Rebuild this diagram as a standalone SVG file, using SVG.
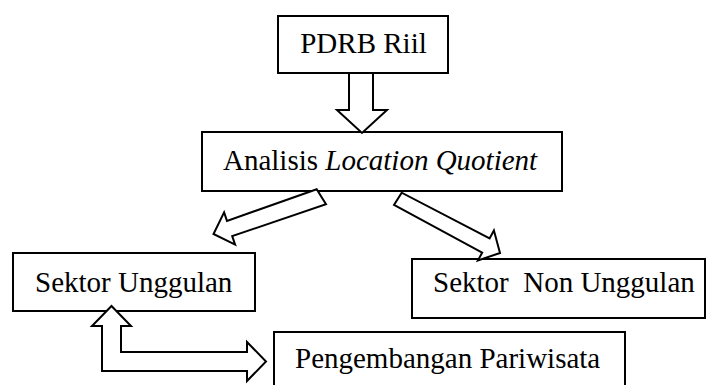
<svg xmlns="http://www.w3.org/2000/svg" width="707" height="385" viewBox="0 0 707 385">
<style>
.box{fill:#fff;stroke:#000;stroke-width:2}
.t{font-family:"Liberation Serif","Times New Roman",serif;font-size:29px;fill:#000;white-space:pre}
.arr{fill:#fff;stroke:#000;stroke-width:2;stroke-linejoin:miter}
</style>
<rect width="707" height="385" fill="#fff"/>
<g id="pdrb">
<rect class="box" x="278" y="16" width="170" height="57"/>
<text class="t" x="363.5" y="53" text-anchor="middle">PDRB Riil</text>
</g>
<g id="lq">
<rect class="box" x="202" y="132" width="360" height="59"/>
<text class="t" x="223" y="170">Analisis <tspan font-style="italic">Location Quotient</tspan></text>
</g>
<g id="unggulan">
<rect class="box" x="13" y="253" width="242" height="58"/>
<text class="t" x="35" y="292">Sektor Unggulan</text>
</g>
<g id="nonunggulan">
<rect class="box" x="412" y="259" width="293" height="59"/>
<text class="t" x="433" y="292" xml:space="preserve">Sektor  Non Unggulan</text>
</g>
<g id="pariwisata">
<rect class="box" x="274" y="332" width="351" height="62"/>
<text class="t" x="295" y="368">Pengembangan Pariwisata</text>
</g>
<g id="connectors">
<polygon class="arr" points="349,73 349,110 337,110 362,133 387,110 373,110 373,73"/>
<polygon class="arr" points="316.7,189.3 326,204.3 232.2,236.1 235.1,244.6 213.5,234 224.1,212.4 227,220.9"/>
<polygon class="arr" points="401.7,192.7 394,205 482.2,252.6 477.9,260.5 500,253 493.9,230.5 489.6,238.4"/>
<polygon class="arr" points="111.5,306 131,326 121,326 121,352 247,352 247,342 266,361.5 247,381 247,371 102,371 102,326 92,326"/>
</g>
</svg>
